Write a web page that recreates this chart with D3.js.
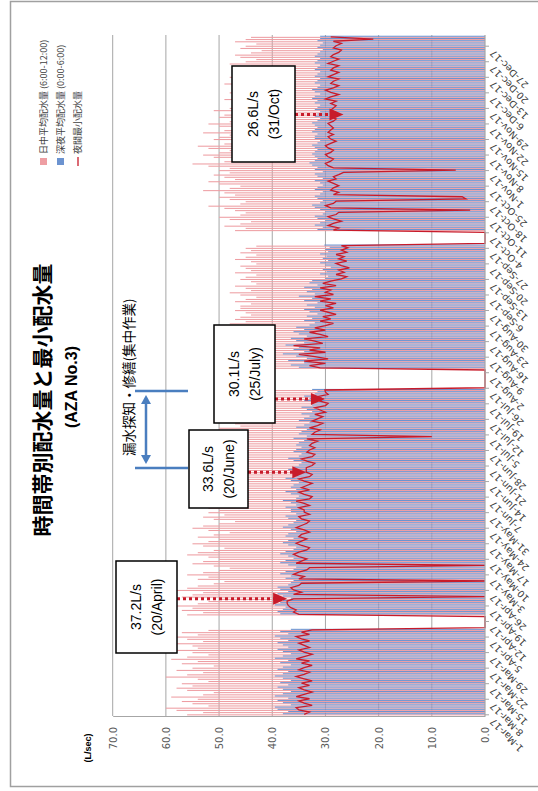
<!DOCTYPE html>
<html><head><meta charset="utf-8">
<script src="https://cdn.jsdelivr.net/npm/d3@7"></script>
<style>body{margin:0;background:#fff}svg{display:block}</style>
</head><body><svg id="c" width="538" height="791"></svg>
<script>
// Daily records, 1-Mar-17 .. 31-Dec-17 (0 = no record that day)
const startDay = "2017-03-01";

// 日中平均配水量 (6:00-12:00), L/s
const dayAvg = [
  56,53,58,60,52,55,57,54,59,53,51,56,58,55,57,52,54,60,56,53,58,55,51,57,54,59,56,52,55,58,54,
  55,58,53,56,59,54,57,52,0,0,0,0,0,0,56,53,57,55,58,54,52,50,57,55,53,58,56,54,51,49,
  54,52,56,53,50,48,51,55,53,50,52,56,54,51,49,53,55,52,50,54,51,48,52,55,53,50,47,51,53,49,52,
  50,52,48,51,53,49,47,50,52,48,51,49,46,50,52,48,47,50,49,51,48,46,50,52,49,47,51,48,46,49,
  48,46,50,47,49,45,48,50,46,47,49,45,44,48,46,47,49,45,44,47,46,48,45,44,46,0,0,0,0,0,0,
  0,0,0,47,45,48,46,44,47,49,45,46,48,44,47,45,46,48,44,45,47,46,44,48,45,47,46,44,45,47,46,
  46,44,47,45,43,46,48,44,45,47,43,44,46,45,43,47,44,45,46,43,44,47,45,43,46,44,45,43,0,0,
  0,0,0,0,47,45,49,46,44,48,50,46,45,47,49,52,46,45,48,50,47,49,53,48,46,50,52,47,49,51,48,
  50,48,52,55,49,47,51,53,50,48,52,54,49,47,51,50,48,53,49,47,50,52,48,46,50,49,47,51,48,46,
  47,45,49,46,44,48,46,45,47,49,44,46,48,45,43,47,46,44,48,45,43,46,47,44,42,46,45,43,47,45,44
];

// 深夜平均配水量 (0:00-6:00), L/s
const nightAvg = [
  38,37,39,39.5,36.5,38,39,37,39.5,38,36.5,38,39,37,38.5,36.5,38,39.5,38,37,39,38,36.5,38.5,37,39.5,38,36.5,38,39,37,
  38,39,37,38.5,39.5,37,38.5,36.5,0,0,0,0,0,0,38.5,39,38,37.5,39.5,38.5,38,36.5,38,39,37,38.5,39,37,36.5,36,
  37.5,36.5,38.5,37.5,36,35.5,37,38.5,37.5,36,37,38.5,37.5,36,35.5,37,38,37,36,37.5,37,35.5,36.5,38,37,36,35.5,37,37.5,35.5,36.5,
  36.5,37.5,35.5,36.5,38,35.5,35,36.5,37.5,35.5,36.5,36,35,36.5,37.5,35.5,35,36,37,36,35,34.5,36,37,35,34.5,36,35.5,34.5,35.5,
  35,34,36,33.5,35,34.5,33.5,35.5,34,33,35,34,33,34.5,32.5,33.5,34.5,32.5,32,34,33,34,32,31.5,32.5,0,0,0,0,0,0,
  0,0,0,35,36.5,34,37,33.5,35.5,38,34,36,35,37.5,34,35.5,36.5,33.5,35,36,34,35.5,33,32,34,32.5,33.5,31.5,33,34,32,
  33.5,31.5,34,32.5,35,32,33.5,32.5,34,31.5,33,32.5,30,29.5,31,29.8,30.5,29,30,31,29.5,30.5,29.8,31,29.5,30,29.2,30.2,0,0,
  0,0,0,0,31.5,30.5,32,31,30,31.5,32,30.5,30,31,32,32.5,31,30.5,31.5,32,31,30.5,32,31.5,30.5,31,32,30.5,31.5,32,30.5,
  32,31.5,32.5,33,32,31.5,32,32.5,32,31.5,32,32.5,31.5,31,32,32,31.5,32.5,32,31.5,32,32.5,31.5,31,32,31.5,31,32,31.5,31,
  32,31.5,32.5,32,31,32,32.5,31.5,31,32,31.5,31,32,31.5,31,32,31.5,31,32,31.5,31,32,31.5,31,30.5,31.5,31,30.5,31.5,31,31
];

// 夜間最小配水量, L/s
const nightMin = [
  34,33,35,35.5,32.5,34,35,33,35.5,34,32.5,34,35,33,34.5,32.5,34,35.5,34,33,35,34,32.5,34.5,33,35.5,34,32.5,34,35,33,
  34,35,33,34.5,35.5,33,34.5,32.5,0,0,0,0,0,0,35,36,35.5,36.5,37,37.2,37.2,36,0,36,34.5,36,36.5,35,34.5,0,
  35,34,36,35,33.5,33,0,35.5,34.5,33.5,35,36,35,33.5,33,34.5,35.5,34.5,33.5,35,34.5,33,34,35.5,34.5,33.5,33,34.5,35,33,34,
  34,35,33,34,35.5,33,32.5,34,35,33,34.5,33.5,32.5,34,35,33,32.5,33.6,33.6,33.6,32.5,32,33.5,34.5,32.5,32,33.5,33,32,33,
  32.5,31.5,33.5,10,32.5,32,31,33,31.5,30.5,32.5,31.5,30.5,32,30,31,32,30,29.5,31,30.5,31.5,29.5,30,30.1,0,0,0,0,0,0,
  0,0,0,31,33,30,34,29.5,32,35,30,33,31,36,30.5,32,34,29.5,31,33,30,32,30,28.5,31,29,30.5,28,29.5,31,28.5,
  30,28,31,29,32,28.5,30,29,31,28,30.5,29,27,26,28,26.5,27.5,25.5,27,28,26,27.5,26.5,28,26,27,25.8,27,0,0,
  0,0,0,0,28.5,27.5,29.5,28.5,27,28.5,29.5,28,27.5,2.8,29,30,28.5,28,3.6,4.3,28.5,27.5,29,28.5,27.5,28.5,29.5,28,28.5,27.5,26.6,
  5.5,28.5,29.5,30,29,28.5,29.5,30,29,28.5,29.5,30,29,28,29,29.5,28.5,29.5,29,28.5,29,29.5,28.5,28,29,28.5,28,29,28.5,28,
  29,28,30,29,27.5,29,30,28.5,27.5,29,28.5,27.5,29.5,28.5,27.5,29,28.5,27.5,29.5,28.5,27.5,29,28.5,27.5,27,28.5,28,27,28.5,21,29
];

const valueTicks = [0, 10, 20, 30, 40, 50, 60, 70];
const seriesNames = ["日中平均配水量 (6:00-12:00)", "深夜平均配水量 (0:00-6:00)", "夜間最小配水量"];
const titleText = "時間帯別配水量と最小配水量";
const subTitleText = "(AZA No.3)";
const unitText = "(L/sec)";
const workText = "漏水探知・修繕(集中作業)";

// callouts: stated minimum and the day the arrow points at
const callouts = [
  { text: "37.2L/s", sub: "(20/April)", value: 37.2, at: "2017-04-22" },
  { text: "33.6L/s", sub: "(20/June)",  value: 33.6, at: "2017-06-18" },
  { text: "30.1L/s", sub: "(25/July)",  value: 30.1, at: "2017-07-21" },
  { text: "26.6L/s", sub: "(31/Oct)",   value: 26.6, at: "2017-11-26" }
];

const parse = d3.timeParse("%Y-%m-%d");
const t0 = parse(startDay);
const days = dayAvg.map((_, i) => d3.timeDay.offset(t0, i));
const dateTicks = d3.range(0, 302, 7).map(i => d3.timeDay.offset(t0, i));

const svg = d3.select("#c");
const COL_PINK = "#EE9EA3", COL_BLUE = "#6C93D0", COL_RED = "#C81B2A", GRID = "#A6A6A6";

// outer frame
svg.append("rect").attr("x", 10.5).attr("y", 1.5).attr("width", 540).attr("height", 785)
  .attr("fill", "#fff").attr("stroke", "#A0A0A0").attr("stroke-width", 1.5);

// chart is laid out turned a quarter turn: values run right-to-left, dates bottom-to-top
const x = d3.scaleLinear().domain([0, 70]).range([485, 112.7]);
const y = d3.scaleTime().domain([t0, parse("2017-12-27")]).range([714.3, 45.7]);
const plotTop = 35, plotBottom = 716;

const g = svg.append("g");

// gridlines
g.selectAll("line.grid").data(valueTicks.filter(v => v > 0)).join("line")
  .attr("x1", d => x(d)).attr("x2", d => x(d)).attr("y1", plotTop).attr("y2", plotBottom)
  .attr("stroke", GRID).attr("stroke-width", 1);

const half = 1.1;
// day-time bars
g.selectAll("rect.day").data(days.map((d, i) => ({ d, v: dayAvg[i] })).filter(o => o.v > 0)).join("rect")
  .attr("x", o => x(o.v)).attr("width", o => x(0) - x(o.v))
  .attr("y", o => y(o.d) + 0.02).attr("height", half - 0.05)
  .attr("fill", COL_PINK);
// night bars
g.selectAll("rect.night").data(days.map((d, i) => ({ d, v: nightAvg[i] })).filter(o => o.v > 0)).join("rect")
  .attr("x", o => x(o.v)).attr("width", o => x(0) - x(o.v))
  .attr("y", o => y(o.d) - half + 0.02).attr("height", half - 0.05)
  .attr("fill", COL_BLUE);

// night minimum line
const line = d3.line().x(o => x(o.v)).y(o => y(o.d));
g.append("path").datum(days.map((d, i) => ({ d, v: nightMin[i] })))
  .attr("d", line).attr("fill", "none").attr("stroke", COL_RED).attr("stroke-width", 1.3)
  .attr("stroke-linejoin", "miter");

// value axis (drawn along the bottom edge)
const xAxis = d3.axisBottom(x).tickValues(valueTicks).tickSize(0).tickFormat(d3.format(".1f"));
const xa = svg.append("g").attr("transform", `translate(0,${plotBottom})`).call(xAxis);
xa.select(".domain").attr("stroke", GRID).attr("stroke-width", 1.2);
xa.selectAll("text").attr("transform", "translate(0,11) rotate(-90)").attr("text-anchor", "end")
  .attr("dy", "0.35em").attr("y", 0).attr("x", 0)
  .attr("font-family", "DejaVu Sans").attr("font-size", 10).attr("fill", "#595959");

// date axis (drawn along the right edge)
const yAxis = d3.axisRight(y).tickValues(dateTicks).tickSize(4).tickFormat(d3.timeFormat("%-d-%b-%y"));
const ya = svg.append("g").attr("transform", `translate(${x(0)},0)`).call(yAxis);
ya.select(".domain").attr("d", `M0,${plotTop}V${plotBottom}`).attr("stroke", GRID).attr("stroke-width", 1.2);
ya.selectAll(".tick line").attr("stroke", GRID);
ya.selectAll("text").attr("x", 0).attr("dy", 0)
  .attr("transform", "translate(9,3) rotate(-135)").attr("text-anchor", "end")
  .attr("font-family", "DejaVu Sans").attr("font-size", 9.5).attr("fill", "#404040");

// title block
const rotText = (px, py, txt, opts) => svg.append("text")
  .attr("transform", `translate(${px},${py}) rotate(-90)`)
  .attr("text-anchor", opts.anchor || "middle").attr("dy", "0.35em")
  .attr("font-family", opts.family || "'Noto Sans CJK JP'")
  .attr("font-size", opts.size).attr("font-weight", opts.weight || "normal")
  .attr("fill", opts.fill || "#000").text(txt);

rotText(43, 400, titleText, { size: 21, weight: "bold" });
rotText(71, 387, subTitleText, { size: 16, weight: "bold", family: "'Liberation Sans', Arial" });
rotText(88, 748, unitText, { size: 9, weight: "bold", family: "'Liberation Sans', Arial" });

// legend
const legY = 166;
svg.append("rect").attr("x", 40).attr("y", legY - 8).attr("width", 7).attr("height", 7).attr("fill", COL_PINK);
rotText(44, legY - 12, seriesNames[0], { size: 9, anchor: "start", fill: "#404040" });
svg.append("rect").attr("x", 57).attr("y", legY - 8).attr("width", 7).attr("height", 7).attr("fill", COL_BLUE);
rotText(61, legY - 12, seriesNames[1], { size: 9, anchor: "start", fill: "#404040" });
svg.append("line").attr("x1", 78).attr("x2", 78).attr("y1", legY - 9).attr("y2", legY).attr("stroke", COL_RED).attr("stroke-width", 1.3);
rotText(78, legY - 12, seriesNames[2], { size: 9, anchor: "start", fill: "#404040" });

// intensive leak-work period bracket
const BR = "#4A7EBF";
const wTop = 391, wBot = 468;
svg.append("line").attr("x1", 135).attr("x2", 188).attr("y1", wTop).attr("y2", wTop).attr("stroke", BR).attr("stroke-width", 2.5);
svg.append("line").attr("x1", 135).attr("x2", 188).attr("y1", wBot).attr("y2", wBot).attr("stroke", BR).attr("stroke-width", 2.5);
svg.append("line").attr("x1", 146).attr("x2", 146).attr("y1", wTop + 9).attr("y2", wBot - 9).attr("stroke", BR).attr("stroke-width", 2.5);
svg.append("path").attr("d", `M146,${wTop + 4}l-5,9h10z`).attr("fill", BR);
svg.append("path").attr("d", `M146,${wBot - 4}l-5,-9h10z`).attr("fill", BR);
rotText(129, 456, workText, { size: 13.5, anchor: "start" });

// callout boxes with dotted arrows
const boxes = [[116, 561, 61, 92], [189, 430, 59, 78], [214, 325, 61, 98], [232, 66, 63, 96]];
callouts.forEach((c, i) => {
  const [bx, by, bw, bh] = boxes[i];
  const ay = y(parse(c.at));
  const tip = x(c.value);
  svg.append("line").attr("x1", bx + bw).attr("x2", tip - 12).attr("y1", ay).attr("y2", ay)
    .attr("stroke", COL_RED).attr("stroke-width", 3).attr("stroke-dasharray", "3,3");
  svg.append("path").attr("d", `M${tip},${ay}L${tip - 14},${ay - 6}L${tip - 14},${ay + 6}Z`).attr("fill", COL_RED);
  svg.append("rect").attr("x", bx).attr("y", by).attr("width", bw).attr("height", bh)
    .attr("fill", "#fff").attr("stroke", "#000").attr("stroke-width", 1.5);
  const cx = bx + bw / 2, cy = by + bh / 2;
  rotText(cx - 10, cy, c.text, { size: 14, family: "'Liberation Sans', Arial" });
  rotText(cx + 11, cy, c.sub, { size: 14, family: "'Liberation Sans', Arial" });
});
</script></body></html>
